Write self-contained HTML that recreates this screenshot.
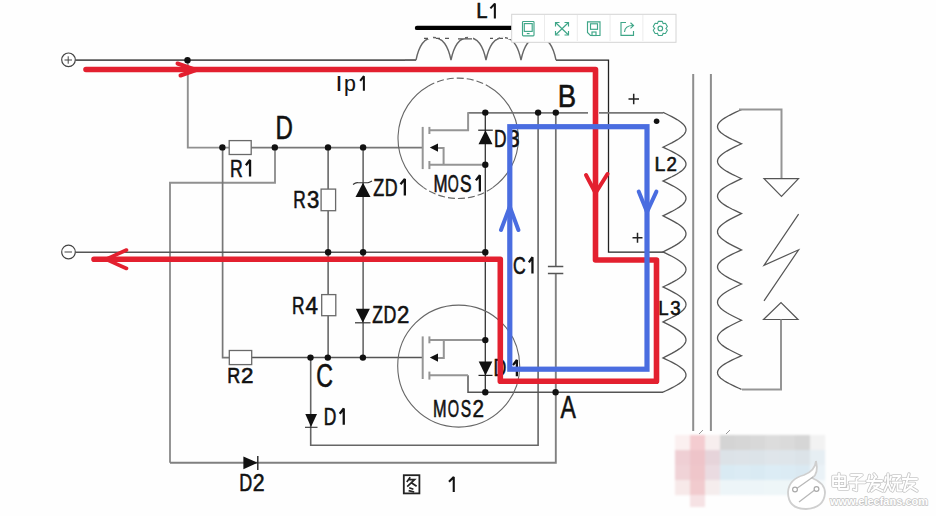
<!DOCTYPE html>
<html><head><meta charset="utf-8"><style>
html,body{margin:0;padding:0;background:#fff;width:936px;height:516px;overflow:hidden}
svg{display:block}
text{font-family:"Liberation Sans",sans-serif}
</style></head><body>
<svg width="936" height="516" viewBox="0 0 936 516">
<rect width="936" height="516" fill="#fefefe"/>
<circle cx="68.5" cy="59.8" r="6.8" fill="#fff" stroke="#444" stroke-width="1.2"/>
<path d="M64.5,60 H72 M68.2,56.3 V63.7" stroke="#444" stroke-width="1"/>
<circle cx="68.5" cy="252" r="6.8" fill="#fff" stroke="#444" stroke-width="1.2"/>
<path d="M64.5,252 H72" stroke="#444" stroke-width="1"/>
<path d="M75.3,60.2 L416,60.2" fill="none" stroke="#555" stroke-width="1.8"/>
<path d="M556,60.2 L608.5,60.2 L608.5,252.2 L664,252.2" fill="none" stroke="#222" stroke-width="1.3"/>
<path d="M187.8,60.2 L187.8,147.6 L229,147.6" fill="none" stroke="#909090" stroke-width="1.9"/>
<path d="M251,147.6 L422.7,147.6" fill="none" stroke="#777" stroke-width="1.7"/>
<path d="M170,462.8 L170,182.8 L275,182.8 L275,147.6" fill="none" stroke="#909090" stroke-width="1.9"/>
<path d="M222.6,147.6 L222.6,357.6 L229.3,357.6" fill="none" stroke="#777" stroke-width="1.7"/>
<path d="M251.7,357.6 L422.5,357.6" fill="none" stroke="#555" stroke-width="1.5"/>
<path d="M328.1,147.5 L328.1,189.1" fill="none" stroke="#444" stroke-width="1.3"/>
<path d="M328.1,210.7 L328.1,294.6" fill="none" stroke="#444" stroke-width="1.3"/>
<path d="M328.1,315.7 L328.1,357.6" fill="none" stroke="#444" stroke-width="1.3"/>
<path d="M363.1,147.5 L363.1,357.6" fill="none" stroke="#444" stroke-width="1.3"/>
<path d="M75.3,252.3 L485.5,252.3" fill="none" stroke="#555" stroke-width="1.5"/>
<path d="M310.7,357.6 L310.7,445.2 L538.1,445.2 L538.1,112.8" fill="none" stroke="#666" stroke-width="1.6"/>
<path d="M170,462.8 L555.8,462.8 L555.8,273.5" fill="none" stroke="#808080" stroke-width="1.9"/>
<path d="M555.8,266.5 L555.8,112.8" fill="none" stroke="#707070" stroke-width="1.7"/>
<path d="M467.8,112.8 L588,112.8" fill="none" stroke="#777" stroke-width="1.7"/>
<path d="M599,112.8 L663,112.8" fill="none" stroke="#777" stroke-width="1.7"/>
<path d="M468,375.3 L468,392.3 L663,392.3" fill="none" stroke="#555" stroke-width="1.5"/>
<path d="M485.3,112.8 L485.3,392.3" fill="none" stroke="#333" stroke-width="1.3"/>
<rect x="229.2" y="140.6" width="22.0" height="13.900000000000006" fill="#fff" stroke="#6a6a6a" stroke-width="1.3"/>
<rect x="321.1" y="189.1" width="14.5" height="21.599999999999994" fill="#fff" stroke="#6a6a6a" stroke-width="1.3"/>
<rect x="321.7" y="294.6" width="14.100000000000023" height="21.099999999999966" fill="#fff" stroke="#6a6a6a" stroke-width="1.3"/>
<rect x="229.3" y="350.5" width="22.399999999999977" height="14.100000000000023" fill="#fff" stroke="#6a6a6a" stroke-width="1.3"/>
<path d="M547.9,266.5 H563.3 M547.9,273.5 H563.3" stroke="#555" stroke-width="1.4"/>
<path d="M488.30,86.17 A60.2,60.2 0 0 1 492.73,187.61 M423.67,187.61 A60.2,60.2 0 0 1 428.10,86.17" fill="none" stroke="#666" stroke-width="1.1"/>
<path d="M428.10,86.17 A60.2,60.2 0 0 1 488.30,86.17 M492.73,187.61 A60.2,60.2 0 0 1 423.67,187.61" fill="none" stroke="#666" stroke-width="1.1" stroke-dasharray="7,3"/>
<path d="M468.1,112.3 L468.1,130.3 L429.4,130.3" fill="none" stroke="#959595" stroke-width="2.0"/>
<path d="M422.7,126.9 L422.7,169.1" fill="none" stroke="#959595" stroke-width="2.0"/>
<path d="M429.4,126.9 L429.4,134" fill="none" stroke="#959595" stroke-width="2.0"/>
<path d="M429.4,161 L429.4,169.1" fill="none" stroke="#959595" stroke-width="2.0"/>
<path d="M436,148 L443.6,148 L443.6,164.8" fill="none" stroke="#959595" stroke-width="2.0"/>
<path d="M429.8,147.6 L438,143.4 L438,151.8 Z" fill="#111"/>
<path d="M429.4,164.8 L485.5,164.8" fill="none" stroke="#959595" stroke-width="2.0"/>
<path d="M485.5,130.2 L478.5,144.2 L492.5,144.2 Z" fill="#111"/>
<path d="M478.2,130.2 H492.8" stroke="#222" stroke-width="1.2"/>
<circle cx="458.7" cy="366.1" r="61" fill="none" stroke="#666" stroke-width="1.1"/>
<path d="M422.7,336.4 L422.7,379" fill="none" stroke="#959595" stroke-width="2.0"/>
<path d="M429.4,336.4 L429.4,343.3" fill="none" stroke="#959595" stroke-width="2.0"/>
<path d="M429.4,371.6 L429.4,379.6" fill="none" stroke="#959595" stroke-width="2.0"/>
<path d="M429.4,340.1 L485.5,340.1" fill="none" stroke="#959595" stroke-width="2.0"/>
<path d="M436,358 L443.8,358 L443.8,340.1" fill="none" stroke="#959595" stroke-width="2.0"/>
<path d="M429.8,357.6 L438,353.4 L438,361.8 Z" fill="#111"/>
<path d="M429.4,375.3 L468,375.3" fill="none" stroke="#959595" stroke-width="2.0"/>
<path d="M478.7,361.5 L492.3,361.5 L485.5,375.4 Z" fill="#111"/>
<path d="M478.5,375.4 H492.5" stroke="#222" stroke-width="1.2"/>
<path d="M363,182.7 L355.5,196.9 L370.5,196.9 Z" fill="#111"/>
<path d="M353,184.5 Q356,182.2 358,182.7 H368 Q370,182.2 372,181" fill="none" stroke="#333" stroke-width="1.1"/>
<path d="M355.8,308.7 L369.9,308.7 L362.8,322.8 Z" fill="#111"/>
<path d="M355,322.8 H370.5" stroke="#333" stroke-width="1.2"/>
<path d="M305.3,414.1 L317,414.1 L311,427 Z" fill="#111"/>
<path d="M305,427.3 H317.5" stroke="#333" stroke-width="1.1"/>
<path d="M243.4,456.4 L257.5,462.8 L243.4,469.3 Z" fill="#111"/>
<path d="M257.8,456 V470" stroke="#222" stroke-width="1.4"/>
<path d="M417,27.9 H512" stroke="#000" stroke-width="4.4" stroke-linecap="round"/>
<path d="M405,60.2 H416 M416,60.2 C419,45 425,37.5 433.5,37.5 C442,37.5 448,45 451,60.2 M451,60.2 C454,45 460,37.5 468.5,37.5 C477,37.5 483,45 486,60.2 M486,60.2 C489,45 495,37.5 503.5,37.5 C512,37.5 518,45 521,60.2 M521,60.2 C524,45 530,37.5 538.5,37.5 C547,37.5 553,45 556,60.2" fill="none" stroke="#666" stroke-width="1.4"/>
<path d="M420,37.6 H556" fill="none" stroke="#fefefe" stroke-width="2.6" stroke-dasharray="5,3"/>
<path d="M424,38.3 H428 M436,38.3 H440 M445,38.3 H449 M458,38.8 H472 M490,38.3 H493 M500,38.3 H503" fill="none" stroke="#555" stroke-width="1.3"/>
<path d="M663.00,112.30 L666.00,113.75 L668.95,115.21 L671.80,116.66 L674.50,118.12 L677.00,119.57 L679.26,121.02 L681.25,122.48 L682.92,123.93 L684.25,125.39 L685.22,126.84 L685.80,128.30 L686.00,129.75 L685.80,131.20 L685.22,132.66 L684.25,134.11 L682.92,135.57 L681.25,137.02 L679.26,138.47 L677.00,139.93 L674.50,141.38 L671.80,142.84 L668.95,144.29 L666.00,145.75 L663.00,147.20 L666.00,148.61 L668.95,150.02 L671.80,151.42 L674.50,152.83 L677.00,154.24 L679.26,155.65 L681.25,157.06 L682.92,158.47 L684.25,159.88 L685.22,161.28 L685.80,162.69 L686.00,164.10 L685.80,165.51 L685.22,166.92 L684.25,168.32 L682.92,169.73 L681.25,171.14 L679.26,172.55 L677.00,173.96 L674.50,175.37 L671.80,176.78 L668.95,178.18 L666.00,179.59 L663.00,181.00 L666.00,182.45 L668.95,183.90 L671.80,185.35 L674.50,186.80 L677.00,188.25 L679.26,189.70 L681.25,191.15 L682.92,192.60 L684.25,194.05 L685.22,195.50 L685.80,196.95 L686.00,198.40 L685.80,199.85 L685.22,201.30 L684.25,202.75 L682.92,204.20 L681.25,205.65 L679.26,207.10 L677.00,208.55 L674.50,210.00 L671.80,211.45 L668.95,212.90 L666.00,214.35 L663.00,215.80 L666.00,217.30 L668.95,218.81 L671.80,220.31 L674.50,221.82 L677.00,223.32 L679.26,224.83 L681.25,226.33 L682.92,227.83 L684.25,229.34 L685.22,230.84 L685.80,232.35 L686.00,233.85 L685.80,235.35 L685.22,236.86 L684.25,238.36 L682.92,239.87 L681.25,241.37 L679.26,242.88 L677.00,244.38 L674.50,245.88 L671.80,247.39 L668.95,248.89 L666.00,250.40 L663.00,251.90 L666.00,253.36 L668.95,254.83 L671.80,256.29 L674.50,257.75 L677.00,259.21 L679.26,260.68 L681.25,262.14 L682.92,263.60 L684.25,265.06 L685.22,266.52 L685.80,267.99 L686.00,269.45 L685.80,270.91 L685.22,272.38 L684.25,273.84 L682.92,275.30 L681.25,276.76 L679.26,278.23 L677.00,279.69 L674.50,281.15 L671.80,282.61 L668.95,284.07 L666.00,285.54 L663.00,287.00 L666.00,288.45 L668.95,289.91 L671.80,291.36 L674.50,292.82 L677.00,294.27 L679.26,295.73 L681.25,297.18 L682.92,298.63 L684.25,300.09 L685.22,301.54 L685.80,303.00 L686.00,304.45 L685.80,305.90 L685.22,307.36 L684.25,308.81 L682.92,310.27 L681.25,311.72 L679.26,313.17 L677.00,314.63 L674.50,316.08 L671.80,317.54 L668.95,318.99 L666.00,320.45 L663.00,321.90 L666.00,323.40 L668.95,324.90 L671.80,326.40 L674.50,327.90 L677.00,329.40 L679.26,330.90 L681.25,332.40 L682.92,333.90 L684.25,335.40 L685.22,336.90 L685.80,338.40 L686.00,339.90 L685.80,341.40 L685.22,342.90 L684.25,344.40 L682.92,345.90 L681.25,347.40 L679.26,348.90 L677.00,350.40 L674.50,351.90 L671.80,353.40 L668.95,354.90 L666.00,356.40 L663.00,357.90 L666.00,359.33 L668.95,360.76 L671.80,362.19 L674.50,363.62 L677.00,365.05 L679.26,366.47 L681.25,367.90 L682.92,369.33 L684.25,370.76 L685.22,372.19 L685.80,373.62 L686.00,375.05 L685.80,376.48 L685.22,377.91 L684.25,379.34 L682.92,380.77 L681.25,382.20 L679.26,383.62 L677.00,385.05 L674.50,386.48 L671.80,387.91 L668.95,389.34 L666.00,390.77 L663.00,392.20" fill="none" stroke="#555" stroke-width="1.3"/>
<path d="M693.2,74 V431 M710.9,74 V431" stroke="#8e8e8e" stroke-width="2"/>
<path d="M741.50,109.60 L738.37,111.02 L735.29,112.45 L732.32,113.88 L729.50,115.30 L726.89,116.72 L724.53,118.15 L722.46,119.58 L720.72,121.00 L719.33,122.42 L718.32,123.85 L717.71,125.28 L717.50,126.70 L717.71,128.12 L718.32,129.55 L719.33,130.97 L720.72,132.40 L722.46,133.83 L724.53,135.25 L726.89,136.68 L729.50,138.10 L732.32,139.53 L735.29,140.95 L738.37,142.38 L741.50,143.80 L738.37,145.25 L735.29,146.71 L732.32,148.16 L729.50,149.62 L726.89,151.07 L724.53,152.53 L722.46,153.98 L720.72,155.43 L719.33,156.89 L718.32,158.34 L717.71,159.80 L717.50,161.25 L717.71,162.70 L718.32,164.16 L719.33,165.61 L720.72,167.07 L722.46,168.52 L724.53,169.97 L726.89,171.43 L729.50,172.88 L732.32,174.34 L735.29,175.79 L738.37,177.25 L741.50,178.70 L738.37,180.15 L735.29,181.61 L732.32,183.06 L729.50,184.52 L726.89,185.97 L724.53,187.42 L722.46,188.88 L720.72,190.33 L719.33,191.79 L718.32,193.24 L717.71,194.70 L717.50,196.15 L717.71,197.60 L718.32,199.06 L719.33,200.51 L720.72,201.97 L722.46,203.42 L724.53,204.88 L726.89,206.33 L729.50,207.78 L732.32,209.24 L735.29,210.69 L738.37,212.15 L741.50,213.60 L738.37,215.11 L735.29,216.62 L732.32,218.14 L729.50,219.65 L726.89,221.16 L724.53,222.68 L722.46,224.19 L720.72,225.70 L719.33,227.21 L718.32,228.72 L717.71,230.24 L717.50,231.75 L717.71,233.26 L718.32,234.78 L719.33,236.29 L720.72,237.80 L722.46,239.31 L724.53,240.82 L726.89,242.34 L729.50,243.85 L732.32,245.36 L735.29,246.88 L738.37,248.39 L741.50,249.90 L738.37,251.32 L735.29,252.74 L732.32,254.16 L729.50,255.58 L726.89,257.00 L724.53,258.43 L722.46,259.85 L720.72,261.27 L719.33,262.69 L718.32,264.11 L717.71,265.53 L717.50,266.95 L717.71,268.37 L718.32,269.79 L719.33,271.21 L720.72,272.63 L722.46,274.05 L724.53,275.48 L726.89,276.90 L729.50,278.32 L732.32,279.74 L735.29,281.16 L738.37,282.58 L741.50,284.00 L738.37,285.51 L735.29,287.02 L732.32,288.54 L729.50,290.05 L726.89,291.56 L724.53,293.07 L722.46,294.59 L720.72,296.10 L719.33,297.61 L718.32,299.12 L717.71,300.64 L717.50,302.15 L717.71,303.66 L718.32,305.18 L719.33,306.69 L720.72,308.20 L722.46,309.71 L724.53,311.23 L726.89,312.74 L729.50,314.25 L732.32,315.76 L735.29,317.27 L738.37,318.79 L741.50,320.30 L738.37,321.78 L735.29,323.25 L732.32,324.73 L729.50,326.20 L726.89,327.68 L724.53,329.15 L722.46,330.62 L720.72,332.10 L719.33,333.57 L718.32,335.05 L717.71,336.52 L717.50,338.00 L717.71,339.48 L718.32,340.95 L719.33,342.43 L720.72,343.90 L722.46,345.38 L724.53,346.85 L726.89,348.32 L729.50,349.80 L732.32,351.27 L735.29,352.75 L738.37,354.23 L741.50,355.70 L738.37,357.10 L735.29,358.51 L732.32,359.91 L729.50,361.32 L726.89,362.72 L724.53,364.12 L722.46,365.53 L720.72,366.93 L719.33,368.34 L718.32,369.74 L717.71,371.15 L717.50,372.55 L717.71,373.95 L718.32,375.36 L719.33,376.76 L720.72,378.17 L722.46,379.57 L724.53,380.97 L726.89,382.38 L729.50,383.78 L732.32,385.19 L735.29,386.59 L738.37,388.00 L741.50,389.40" fill="none" stroke="#555" stroke-width="1.3"/>
<path d="M739,109.6 L781.5,109.6 L781.5,178.7" fill="none" stroke="#959595" stroke-width="2.0"/>
<path d="M764,178.7 H798.5 L781.5,196.5 Z" fill="none" stroke="#555" stroke-width="1.2"/>
<path d="M798.6,214.2 L764,265.3 L798.6,249.8 L764,300.9" fill="none" stroke="#555" stroke-width="1.2"/>
<path d="M763.5,319.5 H798 L781,302.5 Z" fill="none" stroke="#555" stroke-width="1.2"/>
<path d="M742,389.4 L781,389.4 L781,319.5" fill="none" stroke="#959595" stroke-width="2.0"/>
<circle cx="187.5" cy="60.2" r="3.2" fill="#111"/>
<circle cx="222.4" cy="147.4" r="3.2" fill="#111"/>
<circle cx="274.8" cy="147.4" r="3.2" fill="#111"/>
<circle cx="328" cy="147.4" r="3.2" fill="#111"/>
<circle cx="363.1" cy="147.4" r="3.2" fill="#111"/>
<circle cx="310.5" cy="357.6" r="3.2" fill="#111"/>
<circle cx="327.8" cy="357.6" r="3.2" fill="#111"/>
<circle cx="362.9" cy="357.6" r="3.2" fill="#111"/>
<circle cx="328.1" cy="252.3" r="3.2" fill="#111"/>
<circle cx="363.1" cy="252.3" r="3.2" fill="#111"/>
<circle cx="485.3" cy="252.3" r="3.2" fill="#111"/>
<circle cx="485.3" cy="112.6" r="3.2" fill="#111"/>
<circle cx="538.1" cy="112.6" r="3.2" fill="#111"/>
<circle cx="555.8" cy="112.6" r="3.2" fill="#111"/>
<circle cx="485.3" cy="392.3" r="3.2" fill="#111"/>
<circle cx="555.6" cy="392.3" r="3.2" fill="#111"/>
<circle cx="485.3" cy="164.8" r="3.2" fill="#111"/>
<circle cx="485.3" cy="340.1" r="3.2" fill="#111"/>
<circle cx="656.6" cy="121.2" r="2.8" fill="#111"/>
<text transform="translate(476.18,18.40) scale(0.2023,0.2145)" font-family="Liberation Sans" font-size="100" fill="#111" stroke="#111" stroke-width="2.80">L</text>
<path d="M494.86,18.40 V3.60 L490.40,8.34" fill="none" stroke="#111" stroke-width="2.07" stroke-linejoin="miter" stroke-miterlimit="2"/>
<text transform="translate(335.55,90.80) scale(0.2500,0.2116)" font-family="Liberation Sans" font-size="100" fill="#111" stroke="#111" stroke-width="0.47">I</text>
<text transform="translate(344.10,90.80) scale(0.2136,0.2116)" font-family="Liberation Sans" font-size="100" fill="#111" stroke="#111" stroke-width="0.47">p</text>
<path d="M363.88,90.80 V76.20 L360.20,80.87" fill="none" stroke="#111" stroke-width="2.04" stroke-linejoin="miter" stroke-miterlimit="2"/>
<text transform="translate(557.70,107.30) scale(0.2755,0.3188)" font-family="Liberation Sans" font-size="100" fill="#111" stroke="#111" stroke-width="1.88">B</text>
<text transform="translate(275.57,139.20) scale(0.2407,0.3304)" font-family="Liberation Sans" font-size="100" fill="#111" stroke="#111" stroke-width="1.82">D</text>
<text transform="translate(229.89,176.50) scale(0.1763,0.2391)" font-family="Liberation Sans" font-size="100" fill="#111" stroke="#111" stroke-width="2.51">R</text>
<path d="M250.04,176.50 V160.00 L245.90,165.28" fill="none" stroke="#111" stroke-width="2.31" stroke-linejoin="miter" stroke-miterlimit="2"/>
<text transform="translate(293.32,207.70) scale(0.1729,0.2362)" font-family="Liberation Sans" font-size="100" fill="#111" stroke="#111" stroke-width="2.54">R</text>
<text transform="translate(306.91,207.70) scale(0.2213,0.2362)" font-family="Liberation Sans" font-size="100" fill="#111" stroke="#111" stroke-width="2.54">3</text>
<text transform="translate(373.16,195.50) scale(0.1800,0.2391)" font-family="Liberation Sans" font-size="100" fill="#111" stroke="#111" stroke-width="2.51">Z</text>
<text transform="translate(384.78,195.50) scale(0.1780,0.2391)" font-family="Liberation Sans" font-size="100" fill="#111" stroke="#111" stroke-width="2.51">D</text>
<path d="M404.85,195.50 V179.00 L400.50,184.28" fill="none" stroke="#111" stroke-width="2.31" stroke-linejoin="miter" stroke-miterlimit="2"/>
<text transform="translate(494.12,146.70) scale(0.1729,0.2391)" font-family="Liberation Sans" font-size="100" fill="#111" stroke="#111" stroke-width="2.51">D</text>
<text transform="translate(507.65,146.70) scale(0.2128,0.2391)" font-family="Liberation Sans" font-size="100" fill="#111" stroke="#111" stroke-width="2.51">3</text>
<text transform="translate(433.45,191.50) scale(0.1687,0.2362)" font-family="Liberation Sans" font-size="100" fill="#111" stroke="#111" stroke-width="2.54">M</text>
<text transform="translate(447.79,191.50) scale(0.1412,0.2362)" font-family="Liberation Sans" font-size="100" fill="#111" stroke="#111" stroke-width="2.54">O</text>
<text transform="translate(459.93,191.50) scale(0.1737,0.2362)" font-family="Liberation Sans" font-size="100" fill="#111" stroke="#111" stroke-width="2.54">S</text>
<path d="M479.86,191.50 V175.20 L475.90,180.42" fill="none" stroke="#111" stroke-width="2.28" stroke-linejoin="miter" stroke-miterlimit="2"/>
<text transform="translate(512.92,273.50) scale(0.1762,0.2362)" font-family="Liberation Sans" font-size="100" fill="#111" stroke="#111" stroke-width="2.54">C</text>
<path d="M532.46,273.50 V257.20 L528.90,262.42" fill="none" stroke="#111" stroke-width="2.28" stroke-linejoin="miter" stroke-miterlimit="2"/>
<text transform="translate(654.44,171.40) scale(0.1955,0.2072)" font-family="Liberation Sans" font-size="100" fill="#111" stroke="#111" stroke-width="2.90">L</text>
<text transform="translate(666.47,171.40) scale(0.1870,0.2072)" font-family="Liberation Sans" font-size="100" fill="#111" stroke="#111" stroke-width="2.90">2</text>
<text transform="translate(658.31,314.60) scale(0.1864,0.2072)" font-family="Liberation Sans" font-size="100" fill="#111" stroke="#111" stroke-width="2.90">L</text>
<text transform="translate(670.25,314.60) scale(0.1872,0.2072)" font-family="Liberation Sans" font-size="100" fill="#111" stroke="#111" stroke-width="2.90">3</text>
<text transform="translate(292.12,313.80) scale(0.1729,0.2435)" font-family="Liberation Sans" font-size="100" fill="#111" stroke="#111" stroke-width="2.46">R</text>
<text transform="translate(305.55,313.80) scale(0.2235,0.2435)" font-family="Liberation Sans" font-size="100" fill="#111" stroke="#111" stroke-width="2.46">4</text>
<text transform="translate(372.28,322.70) scale(0.1745,0.2362)" font-family="Liberation Sans" font-size="100" fill="#111" stroke="#111" stroke-width="2.54">Z</text>
<text transform="translate(383.58,322.70) scale(0.1780,0.2362)" font-family="Liberation Sans" font-size="100" fill="#111" stroke="#111" stroke-width="2.54">D</text>
<text transform="translate(396.99,322.70) scale(0.2217,0.2362)" font-family="Liberation Sans" font-size="100" fill="#111" stroke="#111" stroke-width="2.54">2</text>
<text transform="translate(227.36,382.90) scale(0.1797,0.2275)" font-family="Liberation Sans" font-size="100" fill="#111" stroke="#111" stroke-width="2.64">R</text>
<text transform="translate(240.98,382.90) scale(0.2239,0.2275)" font-family="Liberation Sans" font-size="100" fill="#111" stroke="#111" stroke-width="2.64">2</text>
<text transform="translate(316.24,386.98) scale(0.2317,0.3239)" font-family="Liberation Sans" font-size="100" fill="#111" stroke="#111" stroke-width="1.85">C</text>
<text transform="translate(323.70,424.80) scale(0.1746,0.2362)" font-family="Liberation Sans" font-size="100" fill="#111" stroke="#111" stroke-width="2.54">D</text>
<path d="M343.76,424.80 V408.50 L339.70,413.72" fill="none" stroke="#111" stroke-width="2.28" stroke-linejoin="miter" stroke-miterlimit="2"/>
<text transform="translate(432.90,416.50) scale(0.1627,0.2362)" font-family="Liberation Sans" font-size="100" fill="#111" stroke="#111" stroke-width="2.54">M</text>
<text transform="translate(447.77,416.50) scale(0.1456,0.2362)" font-family="Liberation Sans" font-size="100" fill="#111" stroke="#111" stroke-width="2.54">O</text>
<text transform="translate(460.72,416.50) scale(0.1561,0.2362)" font-family="Liberation Sans" font-size="100" fill="#111" stroke="#111" stroke-width="2.54">S</text>
<text transform="translate(472.47,416.50) scale(0.2065,0.2362)" font-family="Liberation Sans" font-size="100" fill="#111" stroke="#111" stroke-width="2.54">2</text>
<text transform="translate(560.50,417.60) scale(0.2303,0.3145)" font-family="Liberation Sans" font-size="100" fill="#111" stroke="#111" stroke-width="1.91">A</text>
<text transform="translate(493.58,376.20) scale(0.1780,0.2348)" font-family="Liberation Sans" font-size="100" fill="#111" stroke="#111" stroke-width="2.56">D</text>
<path d="M516.87,376.20 V360.00 L513.00,365.18" fill="none" stroke="#111" stroke-width="2.27" stroke-linejoin="miter" stroke-miterlimit="2"/>
<text transform="translate(239.36,490.50) scale(0.1797,0.2478)" font-family="Liberation Sans" font-size="100" fill="#111" stroke="#111" stroke-width="2.42">D</text>
<text transform="translate(252.73,490.50) scale(0.2130,0.2478)" font-family="Liberation Sans" font-size="100" fill="#111" stroke="#111" stroke-width="2.42">2</text>
<path d="M453.75,492.00 V477.00 L449.00,481.80" fill="none" stroke="#111" stroke-width="2.10" stroke-linejoin="miter" stroke-miterlimit="2"/>
<path d="M628.5,99 H639 M633.7,93.8 V104.3" stroke="#222" stroke-width="1.5"/>
<path d="M632.5,237.8 H642.5 M637.5,232.8 V242.8" stroke="#222" stroke-width="1.5"/>
<rect x="403.8" y="475.2" width="15.6" height="18.2" fill="none" stroke="#222" stroke-width="1.8"/>
<path d="M410.2,477.3 L406.8,482 M408.6,479.6 H414.6 L407.2,486.6 M410.6,482.2 L416.6,486.2 M409.2,487.8 L413.4,489.2 M408.6,490.6 L414.2,492" fill="none" stroke="#222" stroke-width="1.7"/>
<path d="M86,69.5 H595.5 V260 H656.5 V381.3 H500.3 V259.3 H94" fill="none" stroke="#e3202f" stroke-width="5.6" stroke-linecap="round" stroke-linejoin="round"/>
<path d="M177.5,63.5 L196,70 L180.5,75.5" fill="none" stroke="#e3202f" stroke-width="4" stroke-linejoin="round" stroke-linecap="round"/>
<path d="M586,175 L595.5,193 L607.5,174" fill="none" stroke="#e3202f" stroke-width="4" stroke-linecap="round"/>
<path d="M126.5,250 L106,259.3 L126.5,268.5" fill="none" stroke="#e3202f" stroke-width="3.6" stroke-linecap="round"/>
<rect x="509.8" y="126.7" width="137.2" height="242.5" fill="none" stroke="#4a6de0" stroke-width="5.2"/>
<path d="M501,230 L509.8,206.7 L518.4,230" fill="none" stroke="#4a6de0" stroke-width="4" stroke-linecap="round"/>
<path d="M638.7,191.6 L647,212 L656.4,191.6" fill="none" stroke="#4a6de0" stroke-width="4" stroke-linecap="round"/>
<defs><filter id="bl" x="-10%" y="-10%" width="120%" height="120%"><feGaussianBlur stdDeviation="1.2"/></filter></defs>
<g filter="url(#bl)">
<rect x="675" y="435" width="15.2" height="15.2" fill="#fbf0f0"/>
<rect x="690" y="435" width="15.2" height="15.2" fill="#f4ccd0"/>
<rect x="705" y="435" width="15.2" height="15.2" fill="#f7eeee"/>
<rect x="720" y="435" width="15.2" height="15.2" fill="#d4d4d4"/>
<rect x="735" y="435" width="15.2" height="15.2" fill="#d6d6d6"/>
<rect x="750" y="435" width="15.2" height="15.2" fill="#d8d8d8"/>
<rect x="765" y="435" width="15.2" height="15.2" fill="#dcdcdc"/>
<rect x="780" y="435" width="15.2" height="15.2" fill="#dadada"/>
<rect x="795" y="435" width="15.2" height="15.2" fill="#d6d6d6"/>
<rect x="810" y="435" width="15.2" height="15.2" fill="#f2f2f2"/>
<rect x="675" y="450" width="15.2" height="15.2" fill="#efcfd4"/>
<rect x="690" y="450" width="15.2" height="15.2" fill="#eec4c9"/>
<rect x="705" y="450" width="15.2" height="15.2" fill="#e6d4da"/>
<rect x="720" y="450" width="15.2" height="15.2" fill="#dce2e7"/>
<rect x="735" y="450" width="15.2" height="15.2" fill="#dde3e8"/>
<rect x="750" y="450" width="15.2" height="15.2" fill="#dce3e8"/>
<rect x="765" y="450" width="15.2" height="15.2" fill="#dfe5ea"/>
<rect x="780" y="450" width="15.2" height="15.2" fill="#dee5ea"/>
<rect x="795" y="450" width="15.2" height="15.2" fill="#dce3e8"/>
<rect x="810" y="450" width="15.2" height="15.2" fill="#e6eef3"/>
<rect x="675" y="465" width="15.2" height="15.2" fill="#f0d3d7"/>
<rect x="690" y="465" width="15.2" height="15.2" fill="#efc6ca"/>
<rect x="705" y="465" width="15.2" height="15.2" fill="#eadbe1"/>
<rect x="720" y="465" width="15.2" height="15.2" fill="#d9eaf3"/>
<rect x="735" y="465" width="15.2" height="15.2" fill="#dbebf4"/>
<rect x="750" y="465" width="15.2" height="15.2" fill="#d9eaf3"/>
<rect x="765" y="465" width="15.2" height="15.2" fill="#dcecf5"/>
<rect x="780" y="465" width="15.2" height="15.2" fill="#dbebf4"/>
<rect x="795" y="465" width="15.2" height="15.2" fill="#dae9f2"/>
<rect x="810" y="465" width="15.2" height="15.2" fill="#eaf2f7"/>
<rect x="675" y="480" width="15.2" height="15.2" fill="#f7e9e9"/>
<rect x="690" y="480" width="15.2" height="15.2" fill="#f1cbce"/>
<rect x="705" y="480" width="15.2" height="15.2" fill="#f5eded"/>
<rect x="720" y="480" width="15.2" height="15.2" fill="#edf5f8"/>
<rect x="735" y="480" width="15.2" height="15.2" fill="#edf5f8"/>
<rect x="750" y="480" width="15.2" height="15.2" fill="#edf5f8"/>
<rect x="765" y="480" width="15.2" height="15.2" fill="#eef6f8"/>
<rect x="780" y="480" width="15.2" height="15.2" fill="#eef6f8"/>
<rect x="795" y="480" width="15.2" height="15.2" fill="#eef5f8"/>
<rect x="810" y="480" width="15.2" height="15.2" fill="#f5f9fb"/>
<rect x="690" y="495" width="15" height="12" fill="#f6e2e4"/>
</g>
<path d="M699,434 L703,430 M726,434 L730,430" stroke="#999" stroke-width="1"/>
<g><path d="M816,461 Q819,474 812,478 Q825,483 825,493 Q824,508 806,509 Q788,509 788,492 Q789,479 804,475 Q815,471 816,461 Z" fill="#fff" stroke="#cfcfcf" stroke-width="1.8"/><path d="M796,489 L813,477 M816,489 L799,502" fill="none" stroke="#b8b8b8" stroke-width="1.3"/><circle cx="795" cy="489.5" r="2.4" fill="#fff" stroke="#aaa" stroke-width="1.2"/><circle cx="816.5" cy="489" r="2.4" fill="#fff" stroke="#aaa" stroke-width="1.2"/></g>
<path d="M833,476.5 H845 V486 H833 Z M833,481 H845 M839,473.5 V489 H848 V486 M851,475 H862 L856.5,479 V490.5 L853.5,489.5 M849.5,482.5 H865 M869.5,475.5 L868.5,480 M874,474 L876.5,477 M867,481 H882 M875,477.5 L868.5,491 M871.5,484.5 H879.5 L871.5,491 M874,487 L882.5,491 M886,477 L885,481 M891,476.5 L890,480 M888,474 V483 L884.5,491 M888,483 L891,490 M893,476 H900.5 L896.5,480 M892.5,482.5 H901.5 M895,484.5 L892.5,491 M897.5,484.5 V490.5 H901.5 M902.5,479 H917 M909,474 L904,491 M907,483.5 H914.5 L905,491 M909.5,486.5 L917,491" fill="none" stroke="#c6c6c6" stroke-width="3.4" stroke-linecap="round" stroke-linejoin="round"/>
<path d="M833,476.5 H845 V486 H833 Z M833,481 H845 M839,473.5 V489 H848 V486 M851,475 H862 L856.5,479 V490.5 L853.5,489.5 M849.5,482.5 H865 M869.5,475.5 L868.5,480 M874,474 L876.5,477 M867,481 H882 M875,477.5 L868.5,491 M871.5,484.5 H879.5 L871.5,491 M874,487 L882.5,491 M886,477 L885,481 M891,476.5 L890,480 M888,474 V483 L884.5,491 M888,483 L891,490 M893,476 H900.5 L896.5,480 M892.5,482.5 H901.5 M895,484.5 L892.5,491 M897.5,484.5 V490.5 H901.5 M902.5,479 H917 M909,474 L904,491 M907,483.5 H914.5 L905,491 M909.5,486.5 L917,491" fill="none" stroke="#ffffff" stroke-width="1.8" stroke-linecap="round" stroke-linejoin="round"/>
<text x="830" y="504.5" font-family="Liberation Sans" font-weight="bold" font-size="11.5" fill="#fff" stroke="#c4c4c4" stroke-width="1.4" paint-order="stroke" textLength="98" lengthAdjust="spacingAndGlyphs">www.elecfans.com</text>
<rect x="511.7" y="14.3" width="164.3" height="28" fill="#fff" stroke="#d4d4d4" stroke-width="1"/>
<path d="M544.5,15 V41" stroke="#ececec" stroke-width="1"/>
<path d="M577.3,15 V41" stroke="#ececec" stroke-width="1"/>
<path d="M610.1,15 V41" stroke="#ececec" stroke-width="1"/>
<path d="M642.9,15 V41" stroke="#ececec" stroke-width="1"/>
<g fill="none" stroke="#3fa688" stroke-width="1.15"><rect x="522.5" y="21.5" width="11.5" height="14.3" rx="0.8"/><rect x="524.3" y="23.6" width="7.9" height="7.8"/><path d="M526.8,33.6 H529.6"/></g>
<g fill="none" stroke="#3fa688" stroke-width="1.15"><path d="M556,23 L568,34.5 M568,23 L556,34.5"/><path d="M555.5,26.5 V22.5 H559.5 M564.5,22.5 H568.5 V26.5 M555.5,31 V35 H559.5 M564.5,35 H568.5 V31"/></g>
<g fill="none" stroke="#3fa688" stroke-width="1.15"><path d="M587.5,21.8 H600 V35.5 H590.5 L587.5,32.5 Z"/><rect x="590.5" y="23.8" width="7" height="5.5"/><rect x="592" y="32" width="4" height="3.5"/></g>
<g fill="none" stroke="#3fa688" stroke-width="1.15"><path d="M626,22.5 H621 V35.3 H633.5 V31"/><path d="M624.5,32 Q625,25.5 633,25.5"/><path d="M630.5,22.8 L633.5,25.5 L630.5,28.3"/></g>
<g fill="none" stroke="#3fa688" stroke-width="1.1" stroke-linejoin="round"><path d="M657.37,23.63 L658.42,21.35 L662.18,21.35 L663.23,23.63 L662.97,23.48 L665.47,23.25 L667.35,26.50 L665.90,28.55 L665.90,28.25 L667.35,30.30 L665.47,33.55 L662.97,33.32 L663.23,33.17 L662.18,35.45 L658.42,35.45 L657.37,33.17 L657.63,33.32 L655.13,33.55 L653.25,30.30 L654.70,28.25 L654.70,28.55 L653.25,26.50 L655.13,23.25 L657.63,23.48 Z"/><circle cx="660.3" cy="28.4" r="2.3"/></g>
</svg></body></html>
